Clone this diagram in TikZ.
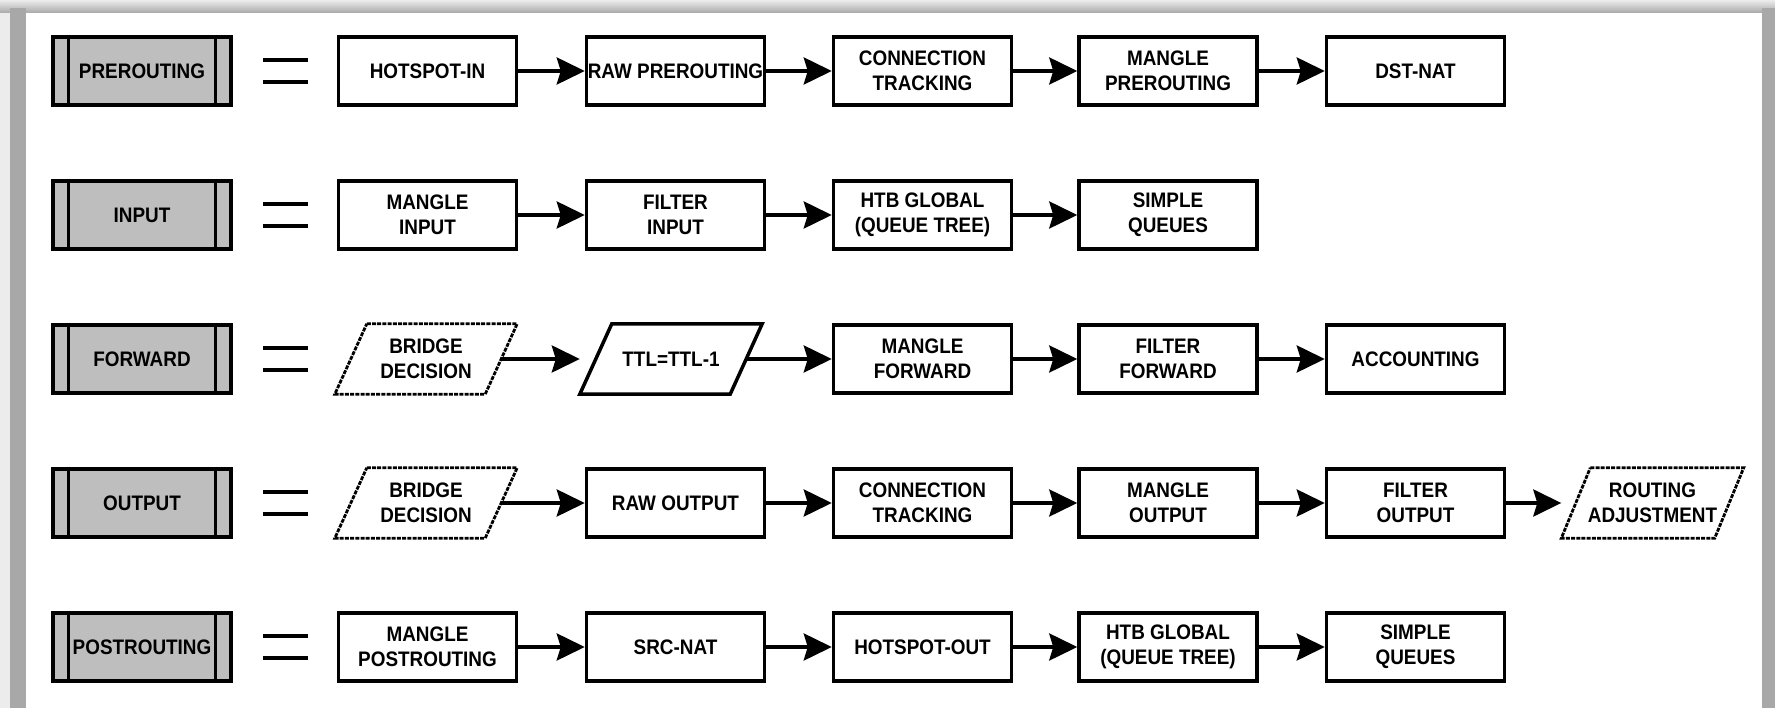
\documentclass[tikz,border=0pt]{standalone}
\usepackage{fontspec}
\setmainfont{Liberation Sans}[FakeStretch=0.9]
\usetikzlibrary{arrows.meta,calc}
\definecolor{lblgray}{HTML}{BEBEBE}
\definecolor{framegray}{HTML}{A8A8A8}
\definecolor{outergray}{HTML}{ECECEC}
\newcommand\lblfont{\bfseries\fontsize{21}{25}\selectfont}
\newcommand\drawpara[3]{\draw[#3] ([xshift=#2]#1.north west) -- (#1.north east) -- ([xshift=-#2]#1.south east) -- (#1.south west) -- cycle;}
\newcommand\chanlbl[1]{%
  \draw[line width=3pt] ([xshift=17pt]#1.north west) -- ([xshift=17pt]#1.south west);
  \draw[line width=3pt] ([xshift=-17pt]#1.north east) -- ([xshift=-17pt]#1.south east);
  \draw[eqline] ([xshift=30pt,yshift=11pt]#1.east) -- ++(45,0);
  \draw[eqline] ([xshift=30pt,yshift=-11pt]#1.east) -- ++(45,0);}
\begin{document}
\begin{tikzpicture}[x=1pt,y=-1pt,
  box/.style={draw, line width=3.5pt, minimum width=178pt, minimum height=68pt, inner sep=0pt, align=center, font=\lblfont, fill=white},
  para/.style={minimum width=182pt, minimum height=70pt, inner sep=0pt, align=center, font=\lblfont},
  lbl/.style={draw, line width=3.5pt, fill=lblgray, minimum width=178pt, minimum height=68pt, inner sep=0pt, font=\lblfont},
  arr/.style={line width=3.5pt, -{Stealth[length=28pt,width=27pt,inset=4pt]}},
  eqline/.style={line width=4pt},
  dashedpara/.style={line width=2.8pt, dash pattern=on 4pt off 1.2pt},
  solidpara/.style={line width=3.5pt, line join=miter},
]
% background / frame
\useasboundingbox (0,0) rectangle (1775,708);
\fill[outergray] (0,0) rectangle (1775,708);
\shade[top color=outergray, bottom color=framegray] (0,0) rectangle (1775,13);
\fill[framegray] (10,8) rectangle (26,708);
\fill[framegray] (1762,8) rectangle (1775,708);
\fill[white] (26,13) rectangle (1762,708);

% Row 1: PREROUTING
\node[lbl] (pre) at (142,71) {PREROUTING};
\node[box] (p1) at (427.5,71) {HOTSPOT-IN};
\node[box] (p2) at (675.5,71) {RAW PREROUTING};
\node[box] (p3) at (922.5,71) {CONNECTION\\TRACKING};
\node[box] (p4) at (1168,71) {MANGLE\\PREROUTING};
\node[box] (p5) at (1415.5,71) {DST-NAT};
\chanlbl{pre}
\draw[arr] (p1.east) -- (p2.west);
\draw[arr] (p2.east) -- (p3.west);
\draw[arr] (p3.east) -- (p4.west);
\draw[arr] (p4.east) -- (p5.west);

% Row 2: INPUT
\node[lbl] (inp) at (142,215) {INPUT};
\node[box] (i1) at (427.5,215) {MANGLE\\INPUT};
\node[box] (i2) at (675.5,215) {FILTER\\INPUT};
\node[box] (i3) at (922.5,215) {HTB GLOBAL\\(QUEUE TREE)};
\node[box] (i4) at (1168,215) {SIMPLE\\QUEUES};
\chanlbl{inp}
\draw[arr] (i1.east) -- (i2.west);
\draw[arr] (i2.east) -- (i3.west);
\draw[arr] (i3.east) -- (i4.west);

% Row 3: FORWARD
\node[lbl] (fwd) at (142,359) {FORWARD};
\node[para] (f1) at (426,359) {BRIDGE\\DECISION};
\node[para] (f2) at (671,359) {TTL=TTL-1};
\node[box] (f3) at (922.5,359) {MANGLE\\FORWARD};
\node[box] (f4) at (1168,359) {FILTER\\FORWARD};
\node[box] (f5) at (1415.5,359) {ACCOUNTING};
\drawpara{f1}{32pt}{dashedpara}
\drawpara{f2}{32pt}{solidpara}
\chanlbl{fwd}
\draw[arr] ([xshift=-16pt]f1.east) -- (f2.west);
\draw[arr] ([xshift=-16pt]f2.east) -- (f3.west);
\draw[arr] (f3.east) -- (f4.west);
\draw[arr] (f4.east) -- (f5.west);

% Row 4: OUTPUT
\node[lbl] (out) at (142,503) {OUTPUT};
\node[para] (o1) at (426,503) {BRIDGE\\DECISION};
\node[box] (o2) at (675.5,503) {RAW OUTPUT};
\node[box] (o3) at (922.5,503) {CONNECTION\\TRACKING};
\node[box] (o4) at (1168,503) {MANGLE\\OUTPUT};
\node[box] (o5) at (1415.5,503) {FILTER\\OUTPUT};
\node[para] (o6) at (1652.5,503) {ROUTING\\ADJUSTMENT};
\drawpara{o1}{32pt}{dashedpara}
\drawpara{o6}{29pt}{dashedpara}
\chanlbl{out}
\draw[arr] ([xshift=-16pt]o1.east) -- (o2.west);
\draw[arr] (o2.east) -- (o3.west);
\draw[arr] (o3.east) -- (o4.west);
\draw[arr] (o4.east) -- (o5.west);
\draw[arr] (o5.east) -- (o6.west);

% Row 5: POSTROUTING
\node[lbl] (post) at (142,647) {POSTROUTING};
\node[box] (s1) at (427.5,647) {MANGLE\\POSTROUTING};
\node[box] (s2) at (675.5,647) {SRC-NAT};
\node[box] (s3) at (922.5,647) {HOTSPOT-OUT};
\node[box] (s4) at (1168,647) {HTB GLOBAL\\(QUEUE TREE)};
\node[box] (s5) at (1415.5,647) {SIMPLE\\QUEUES};
\chanlbl{post}
\draw[arr] (s1.east) -- (s2.west);
\draw[arr] (s2.east) -- (s3.west);
\draw[arr] (s3.east) -- (s4.west);
\draw[arr] (s4.east) -- (s5.west);
\end{tikzpicture}
\end{document}
